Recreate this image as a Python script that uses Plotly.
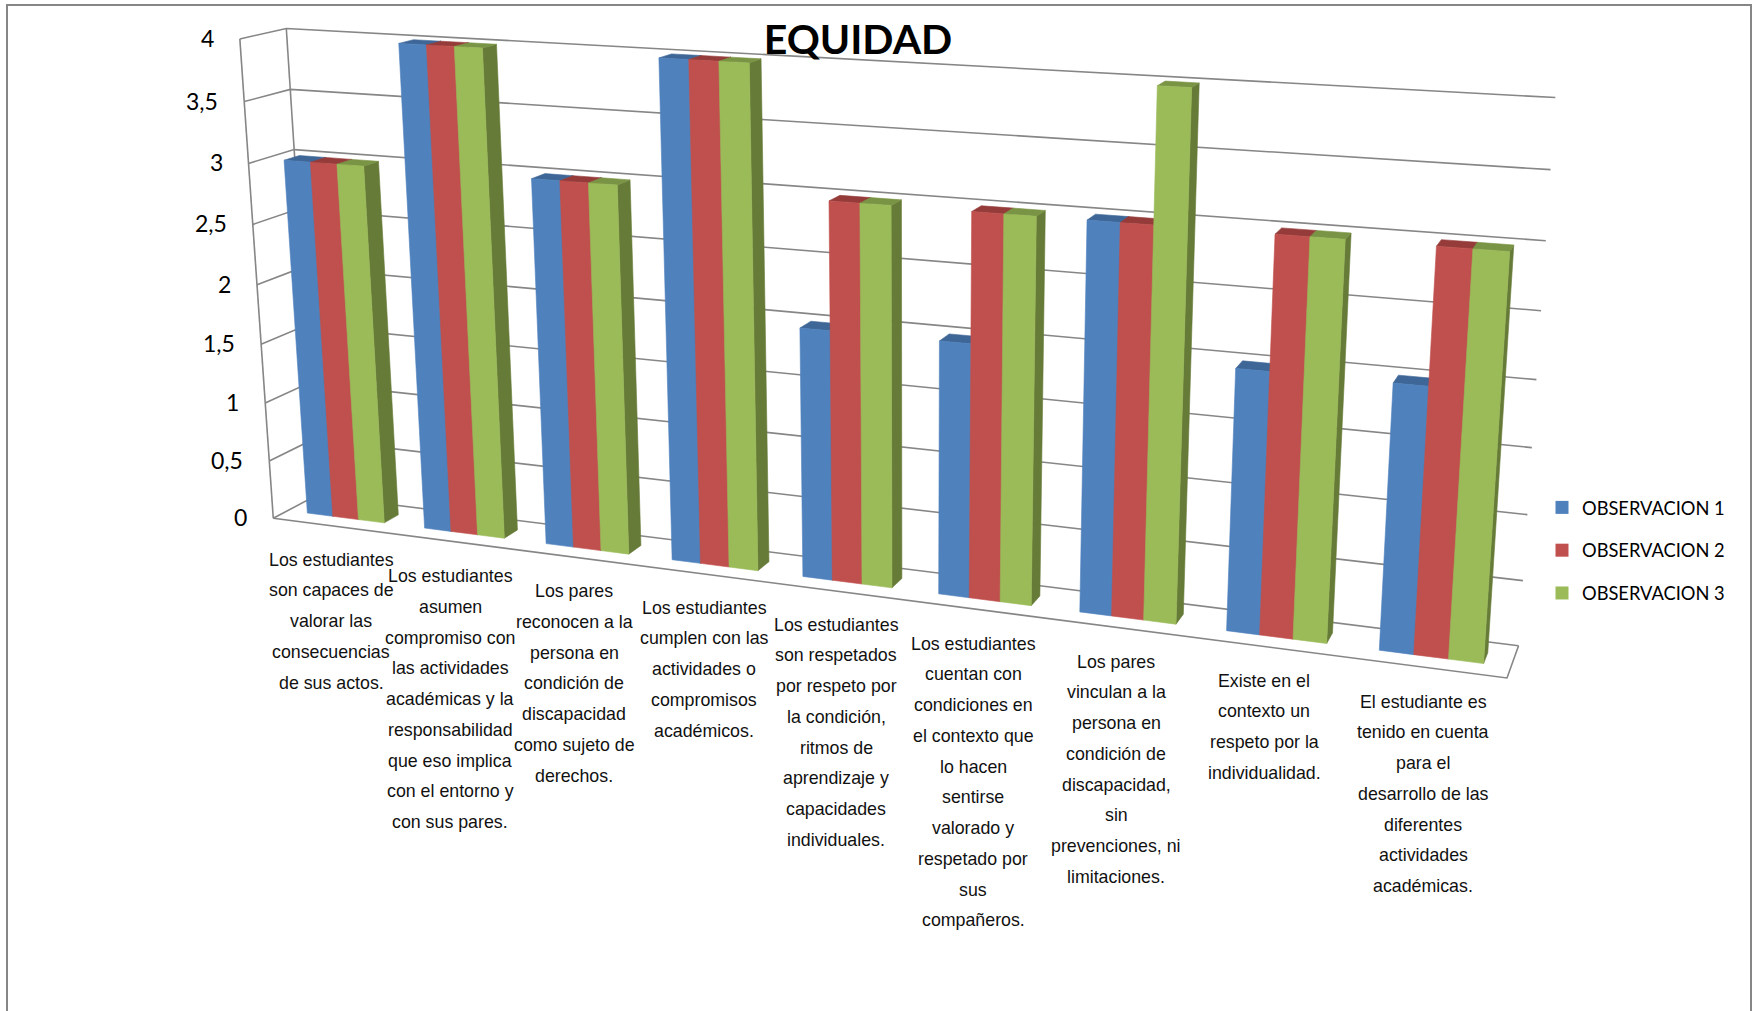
import numpy as np
import plotly.graph_objects as go

# ---- data ----
TITLE = "EQUIDAD"
SERIES = ["OBSERVACION 1", "OBSERVACION 2", "OBSERVACION 3"]
OBS_1 = [3, 4, 3, 4, 2, 2, 3, 2, 2]
OBS_2 = [3, 4, 3, 4, 3, 3, 3, 3, 3]
OBS_3 = [3, 4, 3, 4, 3, 3, 4, 3, 3]
TICK_VALUES = [0, 0.5, 1, 1.5, 2, 2.5, 3, 3.5, 4]
TICK_LABELS = ["0", "0,5", "1", "1,5", "2", "2,5", "3", "3,5", "4"]
CATEGORIES = [
    ["Los estudiantes", "son capaces de", "valorar las", "consecuencias", "de sus actos."],
    ["Los estudiantes", "asumen", "compromiso con", "las actividades", "académicas y la", "responsabilidad",
     "que eso implica", "con el entorno y", "con sus pares."],
    ["Los pares", "reconocen a la", "persona en", "condición de", "discapacidad", "como sujeto de", "derechos."],
    ["Los estudiantes", "cumplen con las", "actividades o", "compromisos", "académicos."],
    ["Los estudiantes", "son respetados", "por respeto por", "la condición,", "ritmos de", "aprendizaje y",
     "capacidades", "individuales."],
    ["Los estudiantes", "cuentan con", "condiciones en", "el contexto que", "lo hacen", "sentirse", "valorado y",
     "respetado por", "sus", "compañeros."],
    ["Los pares", "vinculan a la", "persona en", "condición de", "discapacidad,", "sin", "prevenciones, ni",
     "limitaciones."],
    ["Existe en el", "contexto un", "respeto por la", "individualidad."],
    ["El estudiante es", "tenido en cuenta", "para el", "desarrollo de las", "diferentes", "actividades",
     "académicas."],
]

# ---- style / layout ----
W, H = 1758, 1011
FRONT = ["#4F81BD", "#C0504D", "#9BBB59"]
TOP = ["#3E6797", "#953C3A", "#7A9445"]
SIDE = ["#3A5F8C", "#8A3835", "#667B38"]
GRID = "#868686"
LABEL_X = [331, 450, 574, 704, 836, 973, 1116, 1264, 1423]
LABEL_Y = [559.5, 576, 591, 607.5, 624.5, 643.5, 661.5, 680.5, 701.5]
LABEL_PITCH = 30.75
GAP = 0.17            # share of a category slot left empty on each side
BAR_DEPTH = (0.33, 0.67)

# Perspective of the chart box: box coords (u across, v into the page, value) -> page pixels
BOX_POINTS = [
    ((0, 1, 4), (285, 28.6)), ((1, 1, 4), (1555, 97.3)), ((1, 1, 0), (1518, 646)), ((0, 1, 0), (318, 494)),
    ((0, 0, 4), (240, 38.6)), ((0, 0, 0), (272.5, 518.6)), ((0, 0, 0), (272.5, 518.6)), ((0, 0, 0), (272.5, 518.6)),
    ((1, 0, 0), (1507, 677)),
    ((1, 1, 3), (1546, 240.7)), ((1, 1, 3.5), (1550.5, 169.7)), ((1, 1, 1), (1528, 515)),
    ((1, 1, 0.5), (1523, 581)), ((0, 0, 3), (249.5, 163.6)), ((0, 1, 3), (294, 150)),
    ((0, 0, 2), (258, 284)), ((0, 0, 1), (265.5, 403.5)),
]


def fit_projection(points):
    rows, rhs = [], []
    for (u, v, w), (px, py) in points:
        rows.append([u, v, w, 1, 0, 0, 0, 0, -px * u, -px * v, -px * w])
        rhs.append(px)
        rows.append([0, 0, 0, 0, u, v, w, 1, -py * u, -py * v, -py * w])
        rhs.append(py)
    sol = np.linalg.lstsq(np.array(rows, float), np.array(rhs, float), rcond=None)[0]
    return np.append(sol, 1.0).reshape(3, 4)


P = fit_projection(BOX_POINTS)


def project(u, v, w):
    a = P @ np.array([u, v, w, 1.0])
    return a[0] / a[2], a[1] / a[2]


def polygons(faces):
    xs, ys = [], []
    for face in faces:
        pts = [project(*c) for c in face]
        pts.append(pts[0])
        xs += [p[0] for p in pts] + [None]
        ys += [p[1] for p in pts] + [None]
    return xs, ys


fig = go.Figure()

# walls and gridlines
def add_line(corners, width=1.6):
    pts = [project(*c) for c in corners]
    fig.add_trace(go.Scatter(x=[p[0] for p in pts], y=[p[1] for p in pts], mode="lines",
                             line=dict(color=GRID, width=width), showlegend=False, hoverinfo="skip"))


for t in TICK_VALUES:
    add_line([(0, 0, t), (0, 1, t), (1, 1, t)])
add_line([(0, 0, 0), (0, 0, 4)])
add_line([(0, 1, 0), (0, 1, 4)])
add_line([(0, 0, 0), (1, 0, 0), (1, 1, 0)])

# bars
n = len(CATEGORIES)
slot = 1.0 / n
bar_w = slot * (1 - 2 * GAP) / len(SERIES)
v0, v1 = BAR_DEPTH
for s, values in enumerate([OBS_1, OBS_2, OBS_3]):
    fronts, tops, sides = [], [], []
    for c, val in enumerate(values):
        a = (c + GAP) * slot + s * bar_w
        b = a + bar_w
        fronts.append([(a, v0, 0), (b, v0, 0), (b, v0, val), (a, v0, val)])
        tops.append([(a, v0, val), (b, v0, val), (b, v1, val), (a, v1, val)])
        sides.append([(b, v0, 0), (b, v1, 0), (b, v1, val), (b, v0, val)])
    for faces, col in ((sides, SIDE[s]), (tops, TOP[s]), (fronts, FRONT[s])):
        x, y = polygons(faces)
        fig.add_trace(go.Scatter(x=x, y=y, mode="lines", fill="toself", fillcolor=col,
                                 line=dict(color=col, width=0.6), showlegend=False,
                                 legendgroup=SERIES[s], hoverinfo="skip"))
    fig.add_trace(go.Scatter(x=[None], y=[None], mode="markers", name=SERIES[s], legendgroup=SERIES[s],
                             marker=dict(symbol="square", size=13, color=FRONT[s])))

annotations = []
# value axis labels
for t, lab in zip(TICK_VALUES, TICK_LABELS):
    px, py = project(0, 0, t)
    annotations.append(dict(x=px, y=py - 1, xref="x", yref="y", text=lab, showarrow=False, xanchor="right",
                            yanchor="middle", xshift=-24, font=dict(family="Lato", size=23, color="#000000")))
# category labels, one line at a time
for lines, lx, ly in zip(CATEGORIES, LABEL_X, LABEL_Y):
    for i, line in enumerate(lines):
        annotations.append(dict(x=lx, y=ly + i * LABEL_PITCH, xref="x", yref="y", text=line, showarrow=False,
                                xanchor="center", yanchor="middle",
                                font=dict(family="Liberation Sans", size=17.8, color="#111111")))

fig.update_layout(
    width=W, height=H, margin=dict(l=0, r=0, t=0, b=0), autosize=False,
    paper_bgcolor="white", plot_bgcolor="white",
    xaxis=dict(range=[0, W], visible=False, fixedrange=True),
    yaxis=dict(range=[H, 0], visible=False, fixedrange=True),
    title=dict(text="<b>" + TITLE + "</b>", x=858 / W, y=1 - 39.5 / H, xanchor="center", yanchor="middle",
               font=dict(family="Lato", size=41, color="#000000")),
    legend=dict(x=1542 / W, y=1 - 489 / H, xanchor="left", yanchor="top", tracegroupgap=16,
                font=dict(family="Lato", size=18.3, color="#000000"), bgcolor="rgba(0,0,0,0)"),
    annotations=annotations,
    shapes=[dict(type="rect", xref="x", yref="y", x0=7, y0=5, x1=1751, y1=1040,
                 line=dict(color=GRID, width=2), layer="below")],
)
fig.write_html("out.html", config=dict(displayModeBar=False),
               post_script="document.body.style.margin='0';")
